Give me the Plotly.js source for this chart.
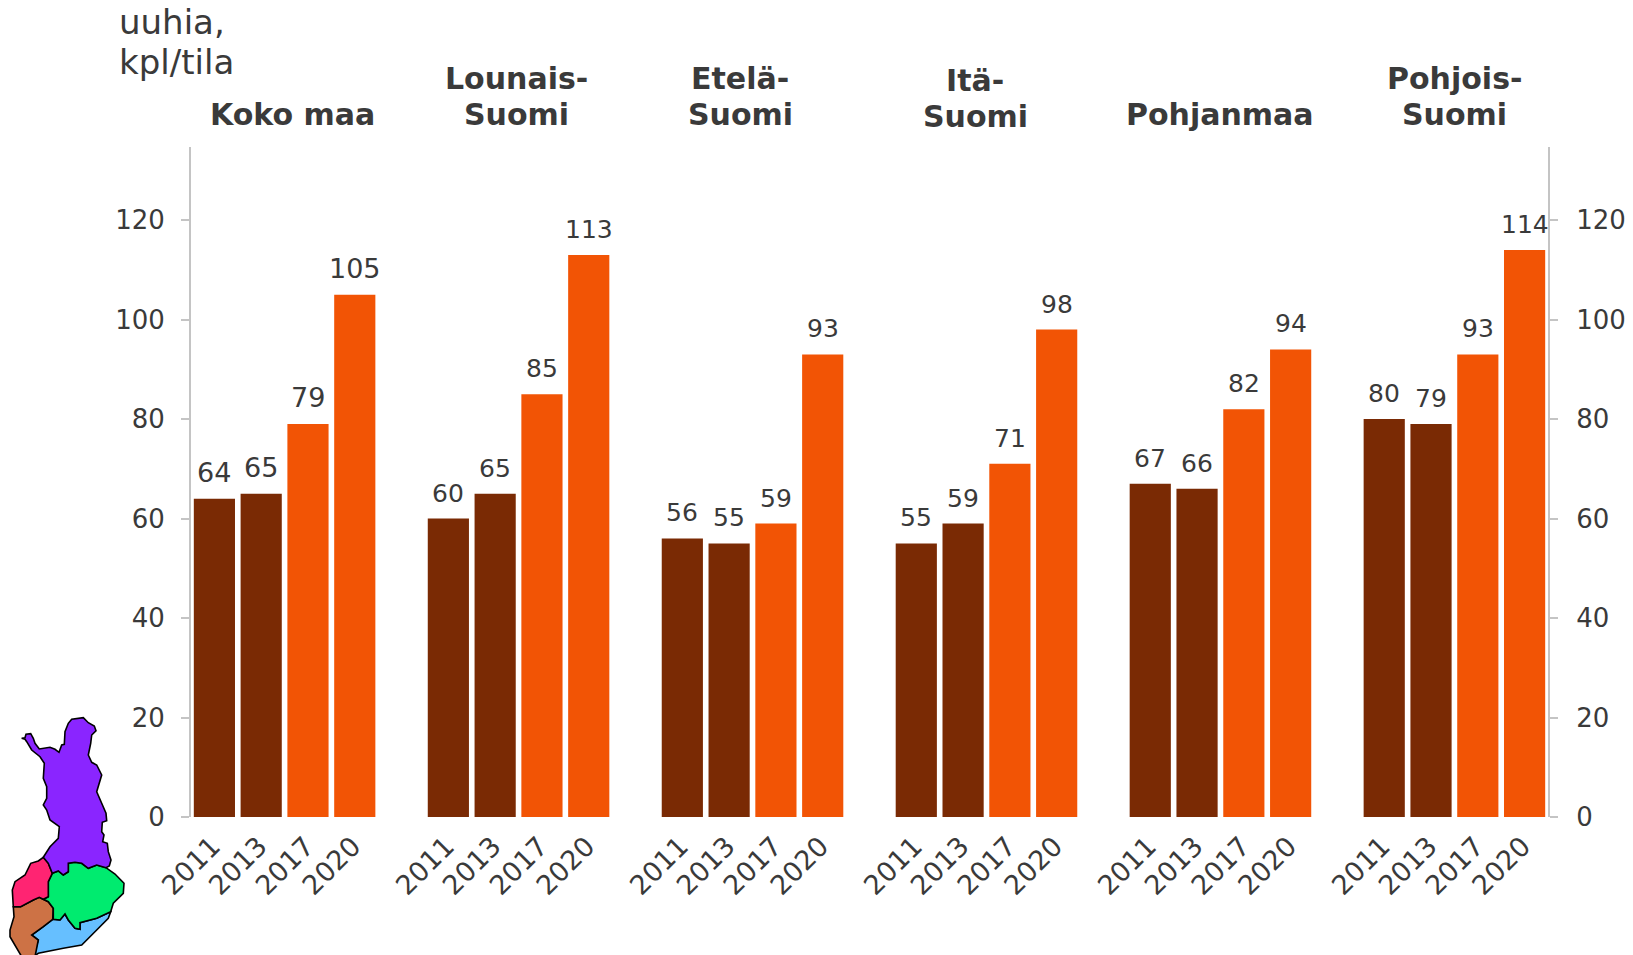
<!DOCTYPE html>
<html>
<head>
<meta charset="utf-8">
<script src="https://cdn.plot.ly/plotly-3.0.1.min.js"></script>
<style>html,body{margin:0;padding:0;background:#fff;overflow:hidden}#chart{width:1633px;height:955px}</style>
</head>
<body>
<div id="chart"></div>
<script>
const years = ['2011', '2013', '2017', '2020'];
const yearColors = ['#7A2A04', '#7A2A04', '#F25405', '#F25405'];
const kokoMaa = [64, 65, 79, 105];
const lounaisSuomi = [60, 65, 85, 113];
const etelaSuomi = [56, 55, 59, 93];
const itaSuomi = [55, 59, 71, 98];
const pohjanmaa = [67, 66, 82, 94];
const pohjoisSuomi = [80, 79, 93, 114];
const regionValues = [kokoMaa, lounaisSuomi, etelaSuomi, itaSuomi, pohjanmaa, pohjoisSuomi];
const regionTitles = [['Koko maa'], ['Lounais-', 'Suomi'], ['Etelä-', 'Suomi'], ['Itä-', 'Suomi'], ['Pohjanmaa'], ['Pohjois-', 'Suomi']];
const unitLines = ['uuhia,', 'kpl/tila'];
const titleCentersPx = [292, 516, 740, 975, 1220, 1454];
const titleBottomsPx = [134, 134, 134, 136, 134, 134];
const labelSizes = [27, 25, 25, 25, 25, 25];
const yTicks = [0, 20, 40, 60, 80, 100, 120];

// Map of Finland regions (decorative, px in a 3x crop anchored at y=700)
const mapPurple = [[65,115],[75,113],[78,103],[92,101],[100,115],[105,130],[118,147],[150,142],[165,148],[177,157],[185,135],[193,133],[195,95],[205,70],[215,58],[250,53],[265,68],[283,78],[288,92],[275,105],[272,130],[265,165],[275,187],[290,195],[305,225],[290,275],[305,310],[318,340],[320,362],[307,367],[305,395],[312,405],[308,425],[322,430],[325,455],[333,480],[328,498],[318,503],[290,495],[265,505],[245,490],[225,487],[205,490],[205,515],[190,525],[175,513],[157,520],[145,490],[130,472],[150,440],[175,415],[178,380],[150,360],[140,330],[130,315],[140,295],[140,260],[130,235],[133,190],[120,170],[95,150],[80,125],[75,118]];
const mapPink = [[130,472],[145,490],[157,520],[145,545],[145,590],[130,598],[118,592],[100,600],[62,620],[40,620],[37,570],[45,545],[75,525],[92,490],[115,483]];
const mapGreen = [[157,520],[175,513],[190,525],[205,515],[205,490],[225,487],[245,490],[265,505],[290,495],[318,503],[345,522],[372,550],[370,580],[340,610],[332,635],[290,655],[240,668],[240,688],[225,685],[205,660],[195,642],[180,660],[160,658],[160,625],[145,605],[130,598],[145,590],[145,545]];
const mapBrown = [[40,620],[62,620],[100,600],[118,592],[130,598],[145,605],[160,625],[158,658],[130,680],[95,705],[115,720],[105,770],[65,770],[30,710],[30,690],[42,650]];
const mapBlue = [[158,658],[180,660],[195,642],[205,660],[225,685],[240,688],[240,668],[290,655],[332,635],[325,655],[290,690],[245,735],[190,745],[115,760],[100,770],[115,720],[95,705],[130,680]];
const mapRegions = [[mapBlue,'#66BFFF'],[mapBrown,'#CD7245'],[mapGreen,'#00EB6F'],[mapPink,'#FF2472'],[mapPurple,'#8A25FF']];

const W = 1633, H = 955, FONT = '"DejaVu Sans", Verdana, sans-serif', INK = '#3A3A3A';
const SLOTS = regionValues.length * years.length + regionValues.length - 1;
const TITLE_STEP = 36, UNIT_STEP = 39.5;

const xs = [], ys = [], colors = [], tickvals = [], ticktext = [], annotations = [];
regionValues.forEach((vals, g) => {
  vals.forEach((v, i) => {
    const x = g * (years.length + 1) + i;
    xs.push(x); ys.push(v); colors.push(yearColors[i]);
    tickvals.push(x); ticktext.push(years[i]);
    annotations.push({x, y: v, xref: 'x', yref: 'y', text: String(v), showarrow: false,
      yanchor: 'bottom', yshift: 9, font: {family: FONT, size: labelSizes[g], color: INK}});
  });
  const lines = regionTitles[g];
  lines.forEach((line, k) => {
    annotations.push({x: titleCentersPx[g], y: titleBottomsPx[g] - (lines.length - 1 - k) * TITLE_STEP, xref: 'x3', yref: 'y3',
      text: '<b>' + line + '</b>', showarrow: false, yanchor: 'bottom', align: 'center',
      font: {family: FONT, size: 30, color: INK}});
  });
});
unitLines.forEach((line, k) => {
  annotations.push({x: 117, y: 44 + k * UNIT_STEP, xref: 'x3', yref: 'y3', text: line, showarrow: false,
    xanchor: 'left', yanchor: 'bottom', align: 'left', font: {family: FONT, size: 34, color: INK}});
});

const shapes = mapRegions.map(([pts, color]) => ({
  type: 'path', xref: 'x3', yref: 'y3', layer: 'above',
  path: pts.map((p, i) => (i ? 'L' : 'M') + (p[0] / 3).toFixed(1) + ',' + (700 + p[1] / 3).toFixed(1)).join(' ') + ' Z',
  fillcolor: color, line: {color: '#000000', width: 1.6}
}));

const yBase = {
  range: [0, 134.7], tickvals: yTicks, ticks: 'outside', ticklen: 8, tickwidth: 2, tickcolor: '#C4C4C4',
  showline: true, linecolor: '#C4C4C4', linewidth: 2, showgrid: false, zeroline: false, fixedrange: true,
  tickfont: {family: FONT, size: 26, color: INK}
};
const dom = {x: [191 / W, 1548 / W], y: [(H - 817) / H, (H - 147) / H]};

const data = [
  {type: 'bar', x: xs, y: ys, marker: {color: colors, line: {width: 0}}, hoverinfo: 'x+y', cliponaxis: false, showlegend: false},
  {type: 'scatter', x: [], y: [], xaxis: 'x', yaxis: 'y2', showlegend: false},
  {type: 'scatter', x: [], y: [], xaxis: 'x3', yaxis: 'y3', showlegend: false}
];
const layout = {
  width: W, height: H, margin: {l: 0, r: 0, t: 0, b: 0, pad: 0}, paper_bgcolor: '#fff', plot_bgcolor: 'rgba(0,0,0,0)',
  bargap: 0.12, showlegend: false,
  xaxis: {domain: dom.x, range: [-0.5, SLOTS - 0.5], tickmode: 'array', tickvals, ticktext, tickangle: -45, ticks: '',
    showline: false, showgrid: false, zeroline: false, fixedrange: true, ticklabelstandoff: 7, ticklabelshift: -2,
    tickfont: {family: FONT, size: 27, color: INK}},
  yaxis: Object.assign({domain: dom.y, anchor: 'x', side: 'left', ticklabelstandoff: 11}, yBase),
  yaxis2: Object.assign({domain: dom.y, anchor: 'x', overlaying: 'y', side: 'right', ticklabelstandoff: 13}, yBase),
  xaxis3: {domain: [0, 1], range: [0, W], visible: false, fixedrange: true, anchor: 'y3'},
  yaxis3: {domain: [0, 1], range: [H, 0], visible: false, fixedrange: true, anchor: 'x3'},
  annotations, shapes
};
Plotly.newPlot('chart', data, layout, {displayModeBar: false, staticPlot: true});
</script>
</body>
</html>
